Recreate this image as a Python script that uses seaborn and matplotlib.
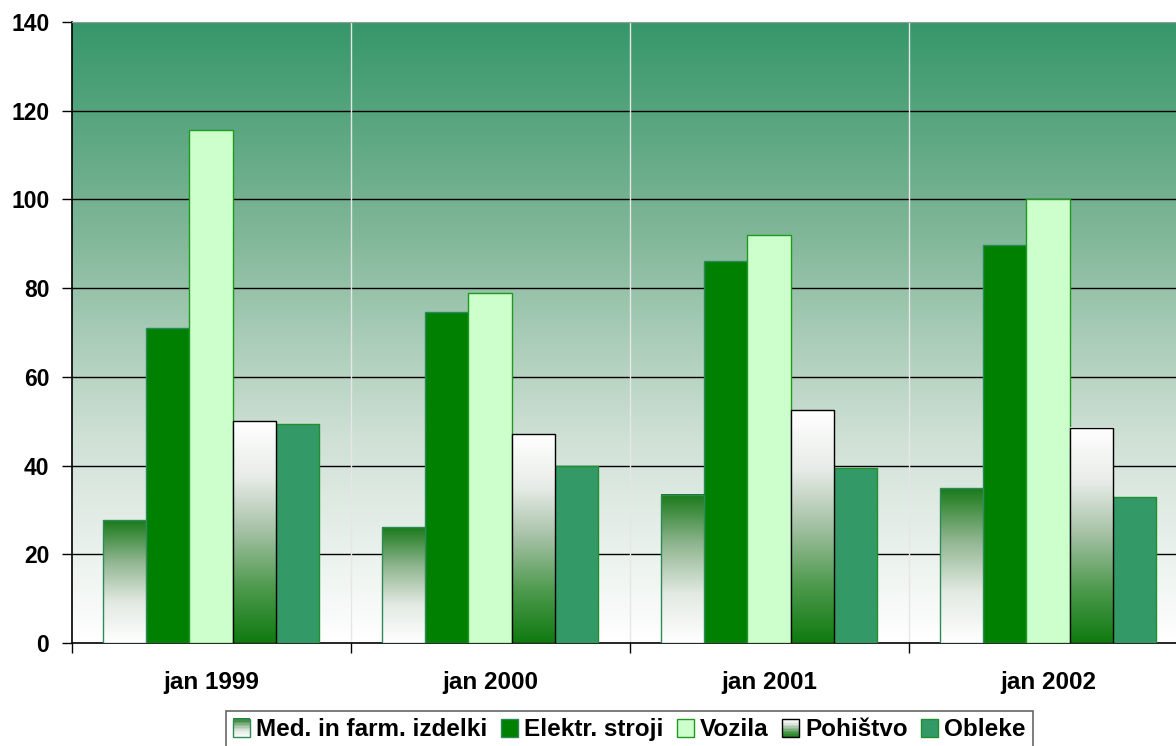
import numpy as np
import pandas as pd
import seaborn as sns
import matplotlib.pyplot as plt
from matplotlib.colors import LinearSegmentedColormap
from matplotlib.patches import Rectangle
from matplotlib.legend_handler import HandlerBase

# data
months = ["jan 1999", "jan 2000", "jan 2001", "jan 2002"]
series = ["Med. in farm. izdelki", "Elektr. stroji", "Vozila", "Pohištvo", "Obleke"]
med = [27.7, 26.1, 33.4, 34.9]
elektr = [71.0, 74.6, 86.1, 89.7]
vozila = [115.6, 78.9, 92.0, 100.1]
pohistvo = [50.0, 47.1, 52.5, 48.5]
obleke = [49.4, 39.9, 39.4, 32.9]

df = pd.DataFrame({
    "month": months * 5,
    "series": np.repeat(series, 4),
    "value": med + elektr + vozila + pohistvo + obleke,
})

fills = ["#ffffff", "#008000", "#ccffcc", "#ffffff", "#339966"]
edges = ["#2e8b57", "#2a8a5a", "#1f9a1f", "#000000", "#1f8f2f"]

# colormaps run top -> bottom
med_cmap = LinearSegmentedColormap.from_list("med", ["#1a7a1a", "#8fb58f", "#e2e9e2", "#ffffff"])
poh_cmap = LinearSegmentedColormap.from_list("poh", ["#ffffff", "#e8ece8", "#a3c0a3", "#4e9a4e", "#0f7a0f"])
bg_cmap = LinearSegmentedColormap.from_list("bg", ["#36976a", "#7fb697", "#cfe0d5", "#ffffff"])

plt.rcParams["font.family"] = ["Liberation Sans", "DejaVu Sans"]
fig = plt.figure(figsize=(11.76, 7.46), dpi=100)
# plot area runs a little past the right edge of the picture
ax = fig.add_axes([71.5 / 1176, 103 / 746, 1116 / 1176, 621 / 746])

sns.barplot(data=df, x="month", y="value", hue="series", order=months,
            hue_order=series, palette=fills, width=0.776, saturation=1,
            legend=False, ax=ax, zorder=3)

grad = np.linspace(0, 1, 256).reshape(-1, 1)
# background gradient, dark at the top
ax.imshow(grad, cmap=bg_cmap, aspect="auto", extent=[-0.5, 3.5, 0, 140],
          zorder=0, origin="upper")

for cont, ec, name in zip(ax.containers, edges, series):
    for bar in cont:
        bar.set_edgecolor(ec)
        bar.set_linewidth(1.0)
        if name in ("Med. in farm. izdelki", "Pohištvo"):
            cmap = med_cmap if name.startswith("Med") else poh_cmap
            x0, w, h = bar.get_x(), bar.get_width(), bar.get_height()
            bar.set_facecolor("none")
            bar.set_zorder(5)
            ax.imshow(grad, cmap=cmap, aspect="auto",
                      extent=[x0, x0 + w, 0, h], origin="upper", zorder=4)
ax.set_ylim(0, 140)
ax.set_xlim(-0.5, 3.5)

# grid
for y in range(20, 140, 20):
    ax.axhline(y, color="black", lw=1.0, zorder=1)
for x in (0.5, 1.5, 2.5):
    ax.axvline(x, color="#e6e6e6", lw=1.0, zorder=1)

ax.set_yticks(range(0, 141, 20))
ax.set_xticks([-0.5, 0.5, 1.5, 2.5, 3.5])
ax.set_xticklabels([])
ax.set_xticks(range(4), minor=True)
ax.set_xticklabels(months, minor=True, fontsize=17.5, fontweight="bold")
ax.tick_params(axis="x", which="minor", length=0, pad=20)
ax.tick_params(axis="x", which="major", length=7, width=1, color="black")
ax.tick_params(axis="y", length=7, width=1, labelsize=16.5, pad=9)
for lab in ax.get_yticklabels():
    lab.set_fontweight("bold")
ax.set_xlabel("")
ax.set_ylabel("")

for s in ("left", "bottom"):
    ax.spines[s].set_color("black")
    ax.spines[s].set_linewidth(1.2)
ax.spines["right"].set_visible(False)
ax.spines["top"].set_color("#9a9a9a")


class GradHandler(HandlerBase):
    def __init__(self, cmap, ec):
        super().__init__()
        self.cmap, self.ec = cmap, ec

    def create_artists(self, legend, orig_handle, xd, yd, width, height, fontsize, trans):
        arts = []
        n = 12
        for i in range(n):
            c = self.cmap(1 - (i + 0.5) / n)
            arts.append(Rectangle((-xd, -yd + height * i / n), width, height / n + 0.3,
                                  facecolor=c, edgecolor="none", transform=trans))
        arts.append(Rectangle((-xd, -yd), width, height, facecolor="none",
                              edgecolor=self.ec, lw=1, transform=trans))
        return arts


handles = []
hmap = {}
for name, fc, ec in zip(series, fills, edges):
    p = Rectangle((0, 0), 1, 1, facecolor=fc, edgecolor=ec, lw=1)
    handles.append(p)
    if name.startswith("Med"):
        hmap[p] = GradHandler(med_cmap, ec)
    elif name == "Pohištvo":
        hmap[p] = GradHandler(poh_cmap, ec)

leg = fig.legend(handles, series, handler_map=hmap, loc="upper center",
                 bbox_to_anchor=(629.5 / 1176, 1 - 711 / 746), ncol=5, frameon=True,
                 fancybox=False, edgecolor="#404040", handlelength=0.7,
                 handleheight=0.8, handletextpad=0.25, columnspacing=0.55,
                 borderpad=0.3, borderaxespad=0,
                 prop={"size": 17.5, "weight": "bold"})
leg.get_frame().set_linewidth(1.2)

fig.savefig("out.png", dpi=100)
